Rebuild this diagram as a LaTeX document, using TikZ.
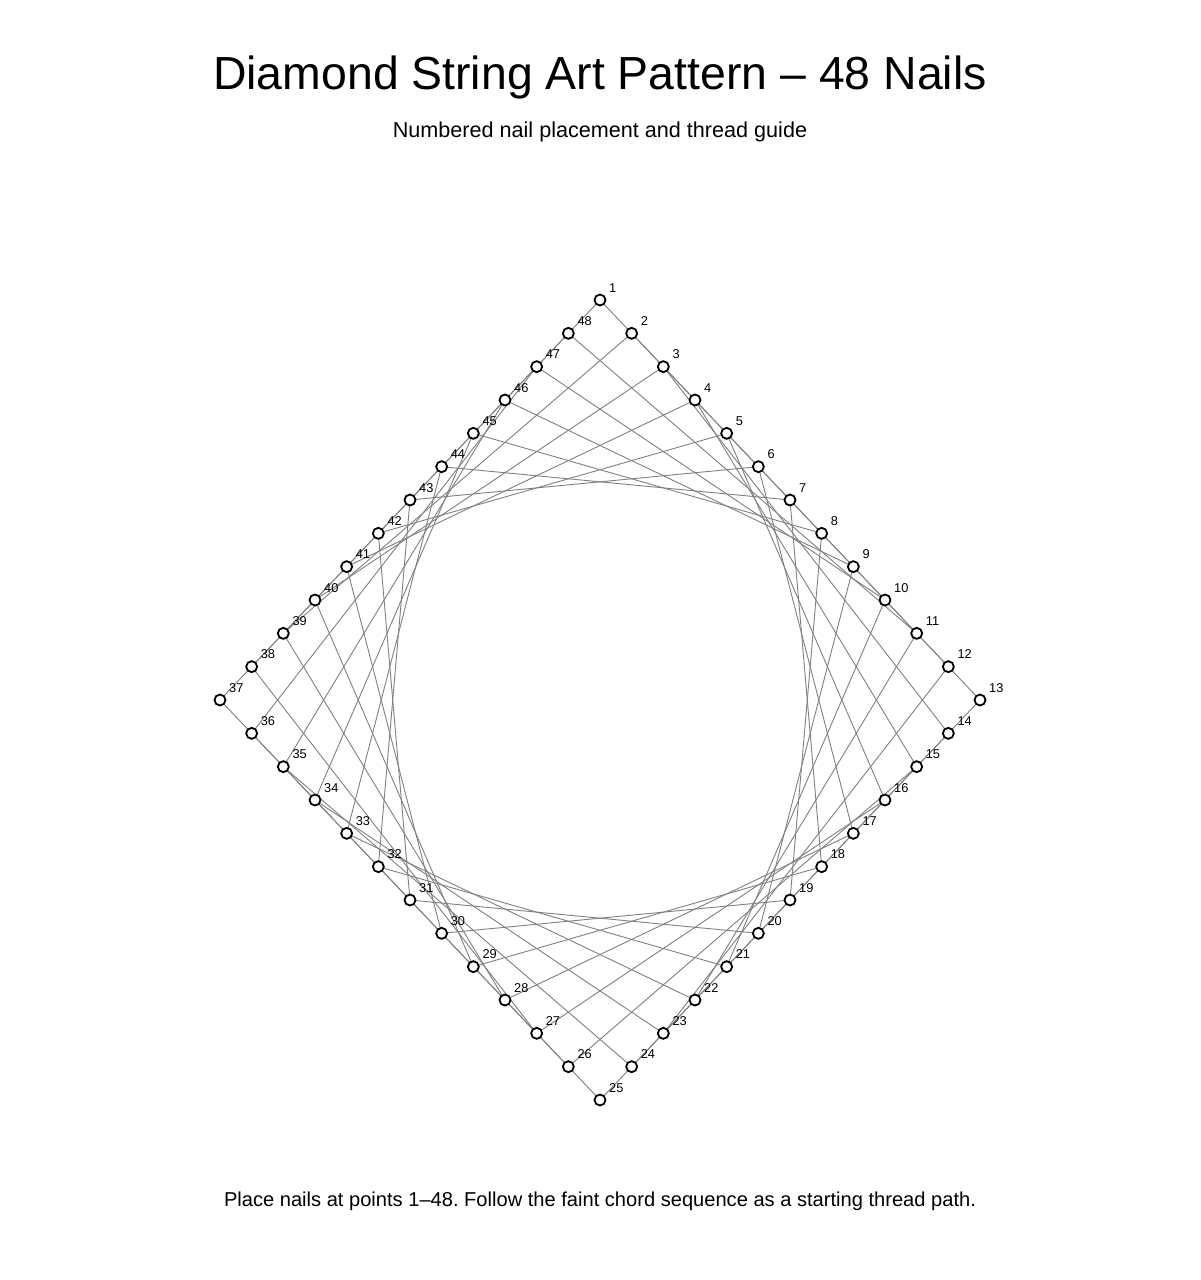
\documentclass[tikz,border=0pt]{standalone}
\usepackage{fontspec}
\setmainfont{Liberation Sans}
\usetikzlibrary{calc}
\frenchspacing
\definecolor{chord}{RGB}{128,128,128}
\tikzset{
  nail/.style={circle,draw=black,fill=white,line width=1.8pt,minimum size=11pt,inner sep=0pt},
  nlabel/.style={anchor=base west,inner sep=0pt,font=\fontsize{12.8}{14}\selectfont},
  chordline/.style={draw=chord,line width=0.9pt},
  titletext/.style={anchor=base,inner sep=0pt,font=\fontsize{46.4}{50}\selectfont},
  subtext/.style={anchor=base,inner sep=0pt,font=\fontsize{21.6}{24}\selectfont},
  foottext/.style={anchor=base,inner sep=0pt,font=\fontsize{20.1}{24}\selectfont}
}
\begin{document}
\begin{tikzpicture}[x=1pt,y=-1pt]
\useasboundingbox (0,0) rectangle (1200,1280);
\fill[white] (0,0) rectangle (1200,1280);
% nail coordinates
\foreach \k in {1,...,48}{
  \pgfmathtruncatemacro{\s}{int((\k-1)/12)}
  \pgfmathsetmacro{\t}{(\k-1)-12*\s}
  \ifcase\s
    \coordinate (p\k) at ({600+\t*380/12},{300+\t*400/12});
  \or
    \coordinate (p\k) at ({980-\t*380/12},{700+\t*400/12});
  \or
    \coordinate (p\k) at ({600-\t*380/12},{1100-\t*400/12});
  \or
    \coordinate (p\k) at ({220+\t*380/12},{700-\t*400/12});
  \fi
}
% chords i -> i+11
\foreach \k in {1,...,48}{
  \pgfmathtruncatemacro{\j}{mod(\k+10,48)+1}
  \draw[chordline] (p\k) -- (p\j);
}
% nails and labels
\foreach \k in {1,...,48}{
  \node[nail] (n\k) at (p\k) {};
  \node[nlabel] (l\k) at ($(p\k)+(9,-8)$) {\k};
}
\node[titletext] (title) at (600,89) {Diamond String Art Pattern – 48 Nails};
\node[subtext] (sub) at (600,137) {Numbered nail placement and thread guide};
\node[foottext] (foot) at (600,1206) {Place nails at points 1–48. Follow the faint chord sequence as a starting thread path.};
\end{tikzpicture}
\end{document}
